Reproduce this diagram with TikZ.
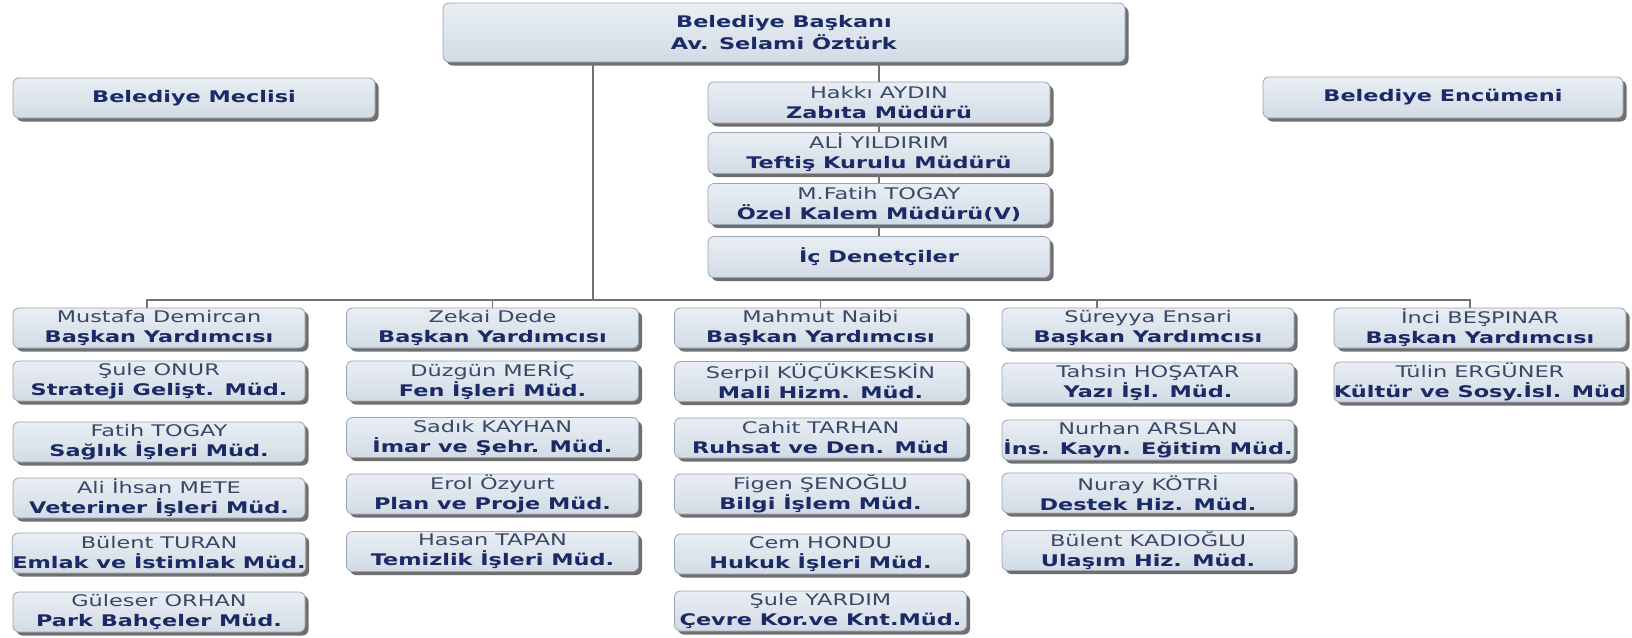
\documentclass[tikz,border=0pt]{standalone}
\usepackage{fontspec}
\setmainfont{DejaVu Sans}[FakeStretch=1.4]
\usetikzlibrary{shadows}
\definecolor{boxline}{HTML}{9AA6B4}
\definecolor{boxtop}{HTML}{E9EEF4}
\definecolor{boxbot}{HTML}{D2DBE5}
\definecolor{namecol}{HTML}{3A4868}
\definecolor{titlecol}{HTML}{1B2A66}
\definecolor{conn}{HTML}{707478}
\tikzset{
 orgbox/.style={rounded corners=6pt, draw=boxline, line width=0.8pt, top color=boxtop, bottom color=boxbot,
   drop shadow={shadow xshift=3.5pt, shadow yshift=-3.5pt, opacity=0.75, fill=black!75},
   align=center, inner sep=0pt, font=\fontsize{16}{20}\selectfont, text=titlecol},
 vbox/.style={orgbox, minimum width=292pt, minimum height=40pt},
 cbox/.style={orgbox, minimum width=342pt, minimum height=41pt},
 link/.style={draw=conn, line width=1.8pt}
}
\newcommand{\nm}[1]{{\color{namecol}#1}}
\newcommand{\tl}[1]{\textbf{#1}}
\begin{document}
\begin{tikzpicture}[x=1pt,y=-1pt]
\fill[white] (0,0) rectangle (1632,637);
\useasboundingbox (0,0) rectangle (1632,637);
% top
\node[orgbox, minimum width=682pt, minimum height=59pt, font=\fontsize{16}{22}\selectfont] (top) at (784,32.5) {\tl{Belediye Başkanı}\\\tl{Av. Selami Öztürk}};
\node[orgbox, minimum width=362pt, minimum height=40pt] (meclis) at (194,98) {\tl{Belediye Meclisi}};
\node[orgbox, minimum width=360pt, minimum height=41pt] (encumen) at (1443,97.5) {\tl{Belediye Encümeni}};
% center column
\node[cbox] (zab) at (879,102.5) {\nm{Hakkı AYDIN}\\\tl{Zabıta Müdürü}};
\node[cbox] (tef) at (879,153) {\nm{ALİ YILDIRIM}\\\tl{Teftiş Kurulu Müdürü}};
\node[cbox] (ozel) at (879,204) {\nm{M.Fatih TOGAY}\\\tl{Özel Kalem Müdürü(V)}};
\node[cbox] (ic) at (879,257) {\tl{İç Denetçiler}};
% column 1
\node[vbox] (a1) at (159,328) {\nm{Mustafa Demircan}\\\tl{Başkan Yardımcısı}};
\node[vbox] (a2) at (159,381) {\nm{Şule ONUR}\\\tl{Strateji Gelişt. Müd.}};
\node[vbox] (a3) at (159,442) {\nm{Fatih TOGAY}\\\tl{Sağlık İşleri Müd.}};
\node[vbox] (a4) at (159,498) {\nm{Ali İhsan METE}\\\tl{Veteriner İşleri Müd.}};
\node[vbox] (a5) at (159,553) {\nm{Bülent TURAN}\\\tl{Emlak ve İstimlak Müd.}};
\node[vbox] (a6) at (159,612) {\nm{Güleser ORHAN}\\\tl{Park Bahçeler Müd.}};
% column 2
\node[vbox] (b1) at (492.5,328) {\nm{Zekai Dede}\\\tl{Başkan Yardımcısı}};
\node[vbox] (b2) at (492.5,381) {\nm{Düzgün MERİÇ}\\\tl{Fen İşleri Müd.}};
\node[vbox] (b3) at (492.5,437.5) {\nm{Sadık KAYHAN}\\\tl{İmar ve Şehr. Müd.}};
\node[vbox] (b4) at (492.5,494) {\nm{Erol Özyurt}\\\tl{Plan ve Proje Müd.}};
\node[vbox] (b5) at (492.5,551.5) {\nm{Hasan TAPAN}\\\tl{Temizlik İşleri Müd.}};
% column 3
\node[vbox] (c1) at (820.5,328) {\nm{Mahmut Naibi}\\\tl{Başkan Yardımcısı}};
\node[vbox] (c2) at (820.5,381.5) {\nm{Serpil KÜÇÜKKESKİN}\\\tl{Mali Hizm. Müd.}};
\node[vbox] (c3) at (820.5,438) {\nm{Cahit TARHAN}\\\tl{Ruhsat ve Den. Müd}};
\node[vbox] (c4) at (820.5,494) {\nm{Figen ŞENOĞLU}\\\tl{Bilgi İşlem Müd.}};
\node[vbox] (c5) at (820.5,554) {\nm{Cem HONDU}\\\tl{Hukuk İşleri Müd.}};
\node[vbox] (c6) at (820.5,611) {\nm{Şule YARDIM}\\\tl{Çevre Kor.ve Knt.Müd.}};
% column 4
\node[vbox] (d1) at (1148,328) {\nm{Süreyya Ensari}\\\tl{Başkan Yardımcısı}};
\node[vbox] (d2) at (1148,383) {\nm{Tahsin HOŞATAR}\\\tl{Yazı İşl. Müd.}};
\node[vbox] (d3) at (1148,440) {\nm{Nurhan ARSLAN}\\\tl{İns. Kayn. Eğitim Müd.}};
\node[vbox] (d4) at (1148,493) {\nm{Nuray KÖTRİ}\\\tl{Destek Hiz. Müd.}};
\node[vbox] (d5) at (1148,550.5) {\nm{Bülent KADIOĞLU}\\\tl{Ulaşım Hiz. Müd.}};
% column 5
\node[vbox] (e1) at (1480,328) {\nm{İnci BEŞPINAR}\\\tl{Başkan Yardımcısı}};
\node[vbox] (e2) at (1480,382) {\nm{Tülin ERGÜNER}\\\tl{Kültür ve Sosy.İsl. Müd}};
% connectors
\coordinate (mainx) at (593,0);
\coordinate (busL) at (147,300);
\coordinate (busR) at (1470,300);
\coordinate (drop4) at (1097,300);
\draw[link] (top.south -| mainx) -- (mainx |- busL);
\draw[link] (busL |- a1.north) -- (busL) -- (busR) -- (busR |- e1.north);
\draw[link] (b1.north) -- (b1.north |- busL);
\draw[link] (c1.north) -- (c1.north |- busL);
\draw[link] (drop4) -- (drop4 |- d1.north);
\draw[link] (zab.north) -- (zab.north |- top.south);
\draw[link] (tef.north) -- (zab.south);
\draw[link] (ozel.north) -- (tef.south);
\draw[link] (ic.north) -- (ozel.south);
\end{tikzpicture}
\end{document}
